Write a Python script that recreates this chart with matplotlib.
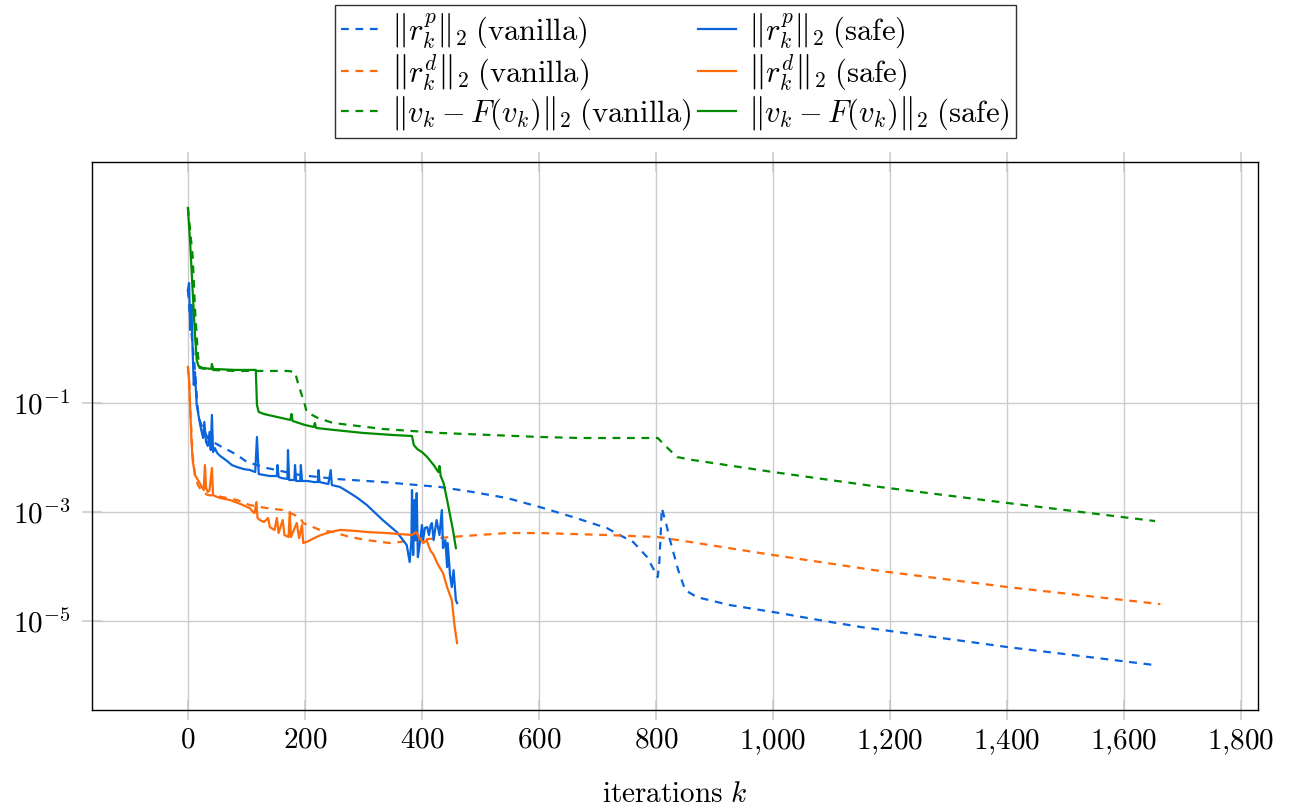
import matplotlib
matplotlib.use("Agg")
import matplotlib.pyplot as plt

plt.rcParams['mathtext.fontset'] = 'cm'
plt.rcParams['font.family'] = ['cmr10', 'DejaVu Serif']
plt.rcParams['axes.formatter.use_mathtext'] = True

# ---------------- data ----------------
# ||r^p_k||_2 vanilla
bv_x = [0, 4, 8, 12, 15, 17, 20, 25, 34, 46, 58, 72, 84, 101, 135, 191, 255, 333, 431, 487,
        545, 602, 658, 716, 738, 761, 785, 803, 806, 810, 818, 824, 838, 850, 870, 926, 1012,
        1080, 1150, 1402, 1653]
bv_y = [11.8, 3.33, 1.16, 0.404, 0.140, 0.0744, 0.0488, 0.0348, 0.0228, 0.0185, 0.0156, 0.0131,
        0.0111, 0.00827, 0.00642, 0.00478, 0.00403, 0.00355, 0.00288, 0.00233,
        0.00181, 0.00123, 0.00081, 0.000509, 0.000379, 0.000282, 0.000149, 6.4e-5, 1.32e-4,
        1.18e-3, 5.77e-4, 3.06e-4, 8.6e-5, 3.7e-5, 2.75e-5, 1.97e-5, 1.40e-5,
        1.04e-5, 7.8e-6, 3.33e-6, 1.56e-6]

# ||r^d_k||_2 vanilla
ov_x = [0, 2, 4, 8, 12, 17, 25, 34, 50, 84, 106, 135, 162, 191, 197, 226, 248, 277, 306, 345,
        391, 448, 545, 602, 716, 803, 838, 1000, 1183, 1402, 1662]
ov_y = [0.458, 0.264, 0.0744, 0.0111, 0.00478, 0.00313, 0.00233, 0.00205, 0.00197, 0.00166,
        0.00134, 0.00118, 0.00109, 0.00081, 0.000629, 0.000468, 0.000430, 0.000348, 0.000306,
        0.000270, 0.000306, 0.000348, 0.000412, 0.000412, 0.000379, 0.000348, 0.000306,
        0.000163, 8.3e-5, 4.2e-5, 2.05e-5]

# ||v_k - F(v_k)||_2 vanilla
gv_x = [0, 8, 12, 17, 20, 40, 80, 130, 170, 183, 188, 200, 203, 222, 248, 333, 431, 602, 670,
        803, 818, 836, 863, 1000, 1183, 1402, 1653]
gv_y = [378, 49.8, 5.53, 0.76, 0.439, 0.404, 0.387, 0.387, 0.387, 0.371, 0.233, 0.0919, 0.0684,
        0.0531, 0.0430, 0.0334, 0.0282, 0.0238, 0.0228, 0.0228, 0.0156, 0.0102, 0.0090,
        0.00542, 0.00288, 0.00146, 0.000684]

# ||r^p_k||_2 safe
bs_x = [0, 2, 4, 6, 8, 10, 12, 15, 18, 22, 26, 28, 31, 34, 37, 39, 41, 43, 46, 50, 55, 60, 67,
        75, 84, 95, 106, 115, 118, 121, 130, 140, 152, 153, 155, 160, 170, 171, 173, 182, 183,
        185, 192, 193, 195, 205, 215, 222, 223, 225, 240, 244, 246, 260, 277, 290, 306, 333,
        357, 374, 379, 382, 383, 385, 387, 389, 391, 393, 396, 400, 402, 405, 409, 412, 415,
        417, 420, 425, 430, 434, 436, 440, 443, 444, 448, 451, 454, 456, 458, 460]
bs_y = [11.8, 15.9, 2.18, 6.28, 0.938, 0.214, 0.371, 0.0919, 0.0603, 0.0348, 0.0228, 0.0448,
        0.0192, 0.0163, 0.0294, 0.0137, 0.0603, 0.0126, 0.0149, 0.0121, 0.0107, 0.0098, 0.00862,
        0.00728, 0.00669, 0.00615, 0.00590, 0.00542, 0.0238, 0.00498, 0.00478, 0.00458,
        0.00458, 0.00728, 0.00439, 0.00421, 0.00403, 0.0137, 0.00387, 0.00387, 0.00728,
        0.00371, 0.00371, 0.00728, 0.00371, 0.00371, 0.00355, 0.00355, 0.00590, 0.00355,
        0.00327, 0.00590, 0.00313, 0.00288, 0.00223, 0.00181, 0.00134, 0.000713,
        0.000430, 0.000248, 0.000121, 0.000306, 0.00253, 0.000163, 0.00166, 0.000306,
        0.00223, 0.000149, 0.000248, 0.000577, 0.000306, 0.000509, 0.000531, 0.000379,
        0.000577, 0.000629, 0.000306, 0.000713, 0.000379, 0.00109, 0.000218, 0.000306,
        9.8e-5, 0.000270, 6.98e-5, 4.2e-5, 8.6e-5, 4.58e-5, 2.43e-5, 2.14e-5]

# ||r^d_k||_2 safe
os_x = [0, 2, 4, 6, 8, 12, 17, 22, 27, 29, 31, 34, 37, 41, 43, 46, 55, 72, 90, 106, 111, 114,
        117, 119, 123, 130, 137, 140, 148, 152, 155, 162, 165, 172, 174, 176, 186, 190, 195,
        197, 205, 215, 225, 240, 260, 290, 306, 340, 362, 383, 390, 395, 402, 408, 414, 420,
        426, 436, 443, 451, 456, 460]
os_y = [0.458, 0.264, 0.0744, 0.0209, 0.0090, 0.00478, 0.00387, 0.00313, 0.00253, 0.00728,
        0.00275, 0.00233, 0.00253, 0.00642, 0.00205, 0.00197, 0.00181, 0.00166, 0.00140,
        0.00118, 0.00100, 0.00096, 0.00153, 0.000776, 0.000713, 0.000656, 0.000776,
        0.000531, 0.000468, 0.000776, 0.000412, 0.000713, 0.000379, 0.000348, 0.00100,
        0.000348, 0.000629, 0.000333, 0.000577, 0.000270, 0.000290, 0.000330, 0.000370,
        0.000420, 0.000470, 0.000448, 0.000430, 0.000412, 0.000395, 0.000379, 0.000430,
        0.000348, 0.000270, 0.000306, 0.000201, 0.000163, 0.000116, 7.6e-5, 4.2e-5,
        2.43e-5, 7.8e-6, 3.95e-6]

# ||v_k - F(v_k)||_2 safe
gs_x = [0, 4, 8, 12, 15, 18, 25, 40, 41, 43, 80, 116, 118, 121, 130, 145, 160, 175, 177, 179,
        200, 215, 217, 219, 250, 300, 350, 383, 386, 392, 400, 409, 420, 428, 430, 432, 437,
        443, 448, 453, 458]
gs_y = [378, 79, 11.8, 1.77, 0.615, 0.478, 0.439, 0.421, 0.520, 0.421, 0.404, 0.404, 0.0919,
        0.0684, 0.0628, 0.0577, 0.0531, 0.0488, 0.0628, 0.0468, 0.0395, 0.0363, 0.0430,
        0.0348, 0.0320, 0.0282, 0.0259, 0.0248, 0.0170, 0.0143, 0.0126, 0.0102, 0.00728,
        0.00542, 0.00698, 0.00458, 0.00341, 0.00166, 0.00088, 0.000468, 0.000218]

x_ticks = [0, 200, 400, 600, 800, 1000, 1200, 1400, 1600, 1800]
x_tick_labels = ['$0$', '$200$', '$400$', '$600$', '$800$', '$1{,}000$', '$1{,}200$',
                 '$1{,}400$', '$1{,}600$', '$1{,}800$']
y_ticks = [1e-1, 1e-3, 1e-5]
y_tick_labels = ['$10^{-1}$', '$10^{-3}$', '$10^{-5}$']

labels = [r'$\left\|r_k^p\right\|_2\;\mathrm{(vanilla)}$',
          r'$\left\|r_k^d\right\|_2\;\mathrm{(vanilla)}$',
          r'$\left\|v_k - F(v_k)\right\|_2\;\mathrm{(vanilla)}$',
          r'$\left\|r_k^p\right\|_2\;\mathrm{(safe)}$',
          r'$\left\|r_k^d\right\|_2\;\mathrm{(safe)}$',
          r'$\left\|v_k - F(v_k)\right\|_2\;\mathrm{(safe)}$']

BLUE = '#0a64dc'
ORANGE = '#ff6a0a'
GREEN = '#008c00'

# ---------------- figure ----------------
fig = plt.figure(figsize=(12.9, 8.07), dpi=100)
ax = fig.add_axes([0.0713, 0.1202, 0.9039, 0.6791])

lw = 1.6
dash = (0, (3.5, 3.0))
h1, = ax.plot(bv_x, bv_y, color=BLUE, lw=lw, ls=dash)
h2, = ax.plot(ov_x, ov_y, color=ORANGE, lw=lw, ls=dash)
h3, = ax.plot(gv_x, gv_y, color=GREEN, lw=lw, ls=dash)
h4, = ax.plot(bs_x, bs_y, color=BLUE, lw=lw)
h5, = ax.plot(os_x, os_y, color=ORANGE, lw=lw)
h6, = ax.plot(gs_x, gs_y, color=GREEN, lw=lw)

ax.set_yscale('log')
ax.set_xlim(-164, 1829)
ax.set_ylim(10**-6.63, 10**3.42)
ax.set_xticks(x_ticks)
ax.set_xticklabels(x_tick_labels)
ax.set_yticks(y_ticks)
ax.set_yticklabels(y_tick_labels)
ax.yaxis.set_minor_locator(matplotlib.ticker.NullLocator())
ax.tick_params(axis='both', which='major', labelsize=21, color='#c8c8c8', width=1.1,
               length=15, direction='inout', top=True, right=False)
ax.tick_params(axis='x', pad=5)
ax.tick_params(axis='y', pad=8)
ax.grid(True, color='#cccccc', lw=1.0)
ax.set_axisbelow(True)
for s in ax.spines.values():
    s.set_linewidth(1.0)
    s.set_color('black')

ax.set_xlabel(r'$\mathrm{iterations}\ k$', fontsize=21, labelpad=18)

leg = fig.legend([h1, h2, h3, h4, h5, h6], labels, loc='upper center',
                 bbox_to_anchor=(0.5233, 0.994), ncol=2, fontsize=22, frameon=True,
                 fancybox=False, edgecolor='black', handlelength=1.25, handletextpad=0.4,
                 columnspacing=0.2, labelspacing=0.08, borderpad=0.2, borderaxespad=0)
leg.get_frame().set_linewidth(1.0)

fig.savefig('out.png', dpi=100)
